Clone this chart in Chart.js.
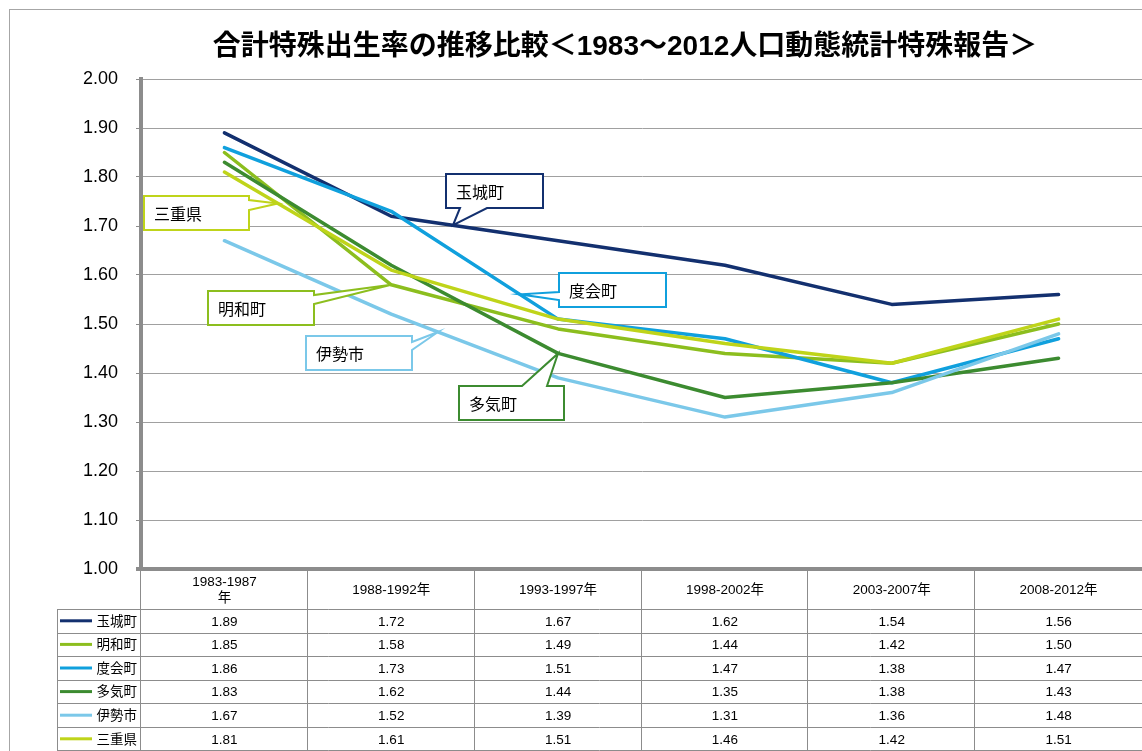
<!DOCTYPE html>
<html lang="ja">
<head>
<meta charset="utf-8">
<title>合計特殊出生率の推移比較</title>
<script src="https://cdn.jsdelivr.net/npm/chart.js@4/dist/chart.umd.min.js"></script>
<style>
  body { margin: 0; background: #fff; }
  canvas { display: block; }
</style>
</head>
<body>
<canvas id="tfrChart" width="1142" height="751"></canvas>
<script>
// 合計特殊出生率 (人口動態統計特殊報告 1983-2012)
const chartTitle = '合計特殊出生率の推移比較＜1983～2012人口動態統計特殊報告＞';
const periods = [['1983-1987', '年'], '1988-1992年', '1993-1997年', '1998-2002年', '2003-2007年', '2008-2012年'];
const areaNames = ['玉城町', '明和町', '度会町', '多気町', '伊勢市', '三重県'];
const tamaki  = [1.89, 1.72, 1.67, 1.62, 1.54, 1.56];
const meiwa   = [1.85, 1.58, 1.49, 1.44, 1.42, 1.50];
const watarai = [1.86, 1.73, 1.51, 1.47, 1.38, 1.47];
const taki    = [1.83, 1.62, 1.44, 1.35, 1.38, 1.43];
const ise     = [1.67, 1.52, 1.39, 1.31, 1.36, 1.48];
const mie     = [1.81, 1.61, 1.51, 1.46, 1.42, 1.51];
const yMin = 1.0, yMax = 2.0, yStep = 0.1;

const seriesValues = [tamaki, meiwa, watarai, taki, ise, mie];
const seriesColors = ['#13306f', '#8cbe1e', '#10a0dd', '#3c8b30', '#7bc8e9', '#bfd41a'];

// callout boxes (pixel layout) + where the pointer touches the line (segment + fraction)
const callouts = [
  { s: 5, seg: 0, f: 0.32, box: [144, 196, 105, 34], side: 'right', base: [200, 210] },
  { s: 1, seg: 1, f: 0.0,  box: [208, 291, 106, 34], side: 'right', base: [295, 304] },
  { s: 4, seg: 1, f: 0.28, box: [306, 336, 106, 34], side: 'right', base: [342, 350] },
  { s: 0, seg: 1, f: 0.37, box: [446, 174, 97, 34],  side: 'bottom', base: [460, 487] },
  { s: 2, seg: 1, f: 0.77, box: [559, 273, 107, 34], side: 'left', base: [292, 300] },
  { s: 3, seg: 2, f: 0.0,  box: [459, 386, 105, 34], side: 'top', base: [522, 547] }
];

const gridGray = '#a0a0a0';
const axisGray = '#8c8c8c';
const tableFont = '13.5px "Liberation Sans", "Noto Sans CJK JP", sans-serif';

// title + outer frame
const framePlugin = {
  id: 'frame',
  beforeDraw(chart) {
    const ctx = chart.ctx;
    ctx.save();
    ctx.fillStyle = '#fff';
    ctx.fillRect(0, 0, chart.width, chart.height);
    ctx.strokeStyle = '#a6a6a6';
    ctx.lineWidth = 1;
    ctx.strokeRect(9.5, 9.5, 2000, 2000);
    ctx.fillStyle = '#000';
    ctx.font = 'bold 28px "Liberation Sans", "Noto Sans CJK JP", sans-serif';
    ctx.textAlign = 'center';
    ctx.textBaseline = 'middle';
    ctx.fillText(chartTitle, 625, 47);
    ctx.restore();
  }
};

// speech-bubble labels pointing at the lines
const calloutPlugin = {
  id: 'callouts',
  afterDatasetsDraw(chart) {
    const ctx = chart.ctx;
    const xs = chart.scales.x, ys = chart.scales.y;
    ctx.save();
    for (const c of callouts) {
      const vals = seriesValues[c.s];
      const v = vals[c.seg] + (vals[c.seg + 1] - vals[c.seg]) * c.f;
      const tx = xs.getPixelForValue(c.seg + c.f);
      const ty = ys.getPixelForValue(v);
      const [x, y, w, h] = c.box;
      const r = x + w, b = y + h;
      const [b1, b2] = c.base;
      ctx.beginPath();
      ctx.moveTo(x, y);
      if (c.side === 'top') { ctx.lineTo(b1, y); ctx.lineTo(tx, ty); ctx.lineTo(b2, y); }
      ctx.lineTo(r, y);
      if (c.side === 'right') { ctx.lineTo(r, b1); ctx.lineTo(tx, ty); ctx.lineTo(r, b2); }
      ctx.lineTo(r, b);
      if (c.side === 'bottom') { ctx.lineTo(b2, b); ctx.lineTo(tx, ty); ctx.lineTo(b1, b); }
      ctx.lineTo(x, b);
      if (c.side === 'left') { ctx.lineTo(x, b2); ctx.lineTo(tx, ty); ctx.lineTo(x, b1); }
      ctx.closePath();
      ctx.fillStyle = '#fff';
      ctx.fill();
      ctx.strokeStyle = seriesColors[c.s];
      ctx.lineWidth = 2;
      ctx.lineJoin = 'miter';
      ctx.stroke();
      ctx.fillStyle = '#000';
      ctx.font = '16px "Noto Sans CJK JP", sans-serif';
      ctx.textAlign = 'left';
      ctx.textBaseline = 'middle';
      ctx.fillText(areaNames[c.s], x + 10, y + h / 2 + 1);
    }
    ctx.restore();
  }
};

// data table under the plot
const tablePlugin = {
  id: 'dataTable',
  afterDraw(chart) {
    const ctx = chart.ctx;
    const xs = chart.scales.x;
    const colW = (xs.right - xs.left) / periods.length;
    const top = chart.chartArea.bottom + 2;
    const headBottom = 609;
    const rowH = 23.6;
    const legendLeft = 57;
    const bottom = headBottom + rowH * areaNames.length;
    ctx.save();
    ctx.strokeStyle = axisGray;
    ctx.lineWidth = 1;
    ctx.beginPath();
    for (let i = 0; i < periods.length; i++) {
      const x = Math.round(xs.left + i * colW) - 0.5;
      ctx.moveTo(x, top);
      ctx.lineTo(x, bottom);
    }
    ctx.moveTo(legendLeft + 0.5, headBottom);
    ctx.lineTo(legendLeft + 0.5, bottom);
    for (let r = 0; r <= areaNames.length; r++) {
      const y = Math.min(Math.round(headBottom + r * rowH) + 0.5, chart.height - 0.5);
      ctx.moveTo(legendLeft, y);
      ctx.lineTo(xs.right, y);
    }
    ctx.stroke();

    ctx.fillStyle = '#000';
    ctx.font = tableFont;
    ctx.textAlign = 'center';
    ctx.textBaseline = 'middle';
    periods.forEach((p, i) => {
      const cx = xs.getPixelForValue(i);
      const lines = Array.isArray(p) ? p : [p];
      const lh = 16;
      const y0 = (top + headBottom) / 2 - (lines.length - 1) * lh / 2;
      lines.forEach((t, k) => ctx.fillText(t, cx, y0 + k * lh));
    });
    seriesValues.forEach((vals, r) => {
      const cy = headBottom + r * rowH + rowH / 2 + 1;
      vals.forEach((v, i) => ctx.fillText(v.toFixed(2), xs.getPixelForValue(i), cy));
      ctx.strokeStyle = seriesColors[r];
      ctx.lineWidth = 3;
      ctx.beginPath();
      ctx.moveTo(60, cy - 1);
      ctx.lineTo(92, cy - 1);
      ctx.stroke();
    });
    ctx.textAlign = 'right';
    areaNames.forEach((n, r) => {
      ctx.fillText(n, 137, headBottom + r * rowH + rowH / 2 + 1);
    });
    ctx.restore();
  }
};

const datasets = areaNames.map((name, i) => ({
  label: name,
  data: seriesValues[i],
  borderColor: seriesColors[i],
  backgroundColor: seriesColors[i],
  borderWidth: 3.5,
  borderCapStyle: 'round',
  borderJoinStyle: 'round',
  pointRadius: 0,
  tension: 0,
  order: areaNames.length - i   // later series on top, like the original
}));

const ctx = document.getElementById('tfrChart');
const chart = new Chart(ctx, {
  type: 'line',
  data: {
    labels: periods,
    datasets: datasets
  },
  options: {
    responsive: false,
    animation: false,
    devicePixelRatio: 1,
    layout: {
      padding: { top: 79, right: 0, bottom: 182, left: 0 }
    },
    scales: {
      x: {
        type: 'category',
        display: false,
        offset: true
      },
      y: {
        min: yMin,
        max: yMax,
        afterFit: (scale) => { scale.width = 141; },
        ticks: {
          stepSize: yStep,
          color: '#000',
          padding: 18,
          font: { family: '"Liberation Sans", Arial, sans-serif', size: 18 },
          callback: (v) => Number(v).toFixed(2)
        },
        grid: {
          color: (c) => (c.tick && Math.abs(c.tick.value - yMin) < 1e-6 ? axisGray : gridGray),
          lineWidth: (c) => (c.tick && Math.abs(c.tick.value - yMin) < 1e-6 ? 4 : 1),
          tickColor: axisGray,
          tickLength: 5,
          drawTicks: true
        },
        border: { color: axisGray, width: 4 }
      }
    },
    plugins: {
      legend: { display: false },
      title: { display: false },
      tooltip: { enabled: false }
    }
  },
  plugins: [framePlugin, calloutPlugin, tablePlugin]
});
</script>
</body>
</html>
